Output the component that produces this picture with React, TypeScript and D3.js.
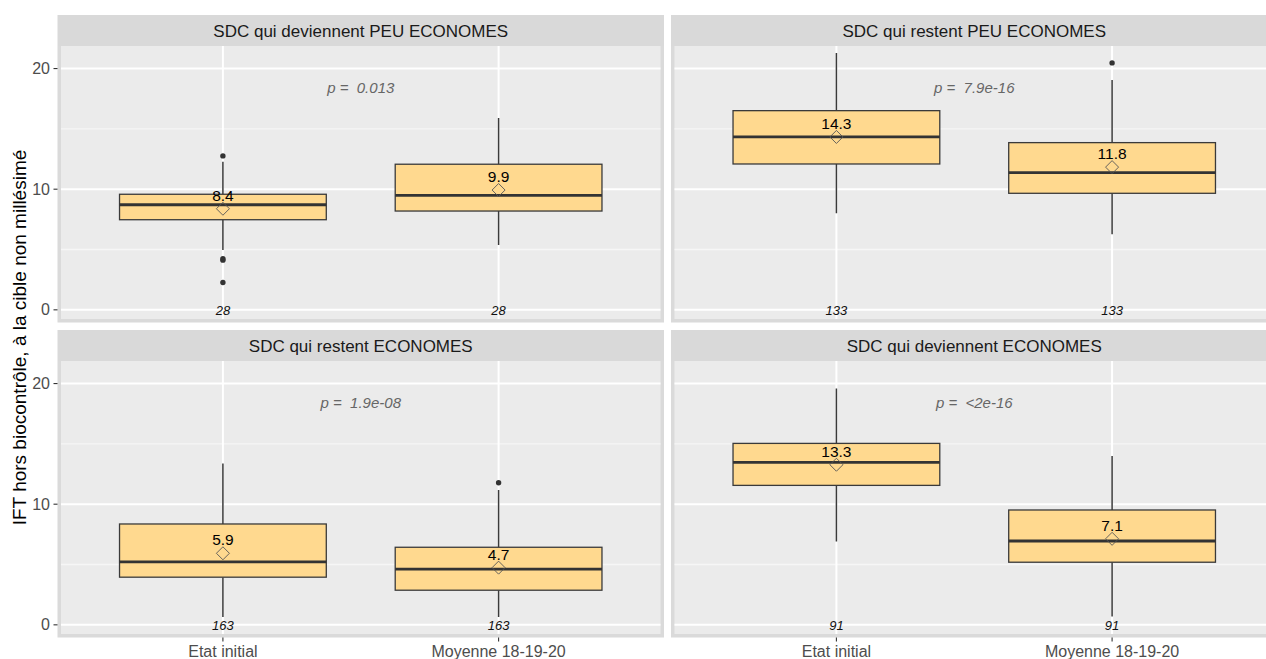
import React from "react";
import * as d3 from "d3";

const facets = [
  "SDC qui deviennent PEU ECONOMES",
  "SDC qui restent PEU ECONOMES",
  "SDC qui restent ECONOMES",
  "SDC qui deviennent ECONOMES",
];
const categories = ["Etat initial", "Moyenne 18-19-20"];
const whiskerLow = [[4.95, 5.37], [8.0, 6.26], [0.65, 0.65], [6.9, 0.69]];
const q1 = [[7.47, 8.19], [12.09, 9.66], [3.95, 2.87], [11.56, 5.19]];
const medians = [[8.71, 9.49], [14.33, 11.37], [5.22, 4.61], [13.47, 6.95]];
const q3 = [[9.58, 12.07], [16.51, 13.86], [8.36, 6.43], [15.04, 9.52]];
const whiskerHigh = [[12.28, 15.9], [21.28, 19.06], [13.38, 11.18], [19.6, 13.99]];
const means = [[8.38, 9.93], [14.33, 11.83], [5.93, 4.74], [13.27, 7.13]];
const meanLabels = [["8.4", "9.9"], ["14.3", "11.8"], ["5.9", "4.7"], ["13.3", "7.1"]];
const outliers = [[[12.76, 4.23, 4.12, 2.27], []], [[], [20.47]], [[], [11.78]], [[], []]];
const counts = [["28", "28"], ["133", "133"], ["163", "163"], ["91", "91"]];
const pValues = ["0.013", "7.9e-16", "1.9e-08", "<2e-16"];
const yTicks = [0, 10, 20];
const yMinor = [5, 15];

const FONT = "'Liberation Sans', Arial, Helvetica, sans-serif";

const cols = [[57.5, 664], [671, 1277.5]];
const rows = [
  { stripTop: 15, top: 46, bottom: 322.5 },
  { stripTop: 330, top: 361, bottom: 637.5 },
];

function Panel({ idx }: { idx: number }) {
  const r = rows[Math.floor(idx / 2)];
  const c = cols[idx % 2];
  const x = d3.scalePoint().domain(categories).range([c[0], c[1]]).padding(0.6);
  const step = x.step();
  const y = d3.scaleLinear().domain([-1.05, 21.87]).range([r.bottom, r.top]);
  const bw = step * 0.75;
  const showYAxis = idx % 2 === 0;
  const showXAxis = Math.floor(idx / 2) === 1;
  const clipId = `clip${idx}`;
  return (
    <g>
      <defs>
        <clipPath id={clipId}>
          <rect x={c[0]} y={r.top} width={c[1] - c[0]} height={r.bottom - r.top} />
        </clipPath>
      </defs>
      <rect x={c[0]} y={r.stripTop} width={c[1] - c[0]} height={r.top - r.stripTop} fill="#d9d9d9" />
      <text x={(c[0] + c[1]) / 2} y={(r.stripTop + r.top) / 2 + 6} textAnchor="middle" fontSize={17} fill="#1a1a1a" fontFamily={FONT}>
        {facets[idx]}
      </text>
      <rect x={c[0]} y={r.top} width={c[1] - c[0]} height={r.bottom - r.top} fill="#dadada" />
      <rect x={c[0] + 3.5} y={r.top} width={c[1] - c[0] - 7} height={r.bottom - r.top - 3.5} fill="#ebebeb" />
      <g>
        {yMinor.map((t) => (
          <line key={"mi" + t} x1={c[0] + 3.5} x2={c[1] - 3.5} y1={y(t)} y2={y(t)} stroke="#f6f6f6" strokeWidth={1.3} />
        ))}
        {yTicks.map((t) => (
          <line key={"ma" + t} x1={c[0] + 3.5} x2={c[1] - 3.5} y1={y(t)} y2={y(t)} stroke="#ffffff" strokeWidth={2} />
        ))}
        {categories.map((cat) => (
          <line key={"v" + cat} x1={x(cat)} x2={x(cat)} y1={r.top} y2={r.bottom - 3.5} stroke="#ffffff" strokeWidth={2} />
        ))}
      </g>
      <g clipPath={`url(#${clipId})`}>
        {categories.map((cat, j) => {
          const cx = x(cat) as number;
          return (
            <g key={cat}>
              <line x1={cx} x2={cx} y1={y(whiskerHigh[idx][j])} y2={y(q3[idx][j])} stroke="#3a3a3a" strokeWidth={1.5} />
              <line x1={cx} x2={cx} y1={y(q1[idx][j])} y2={y(whiskerLow[idx][j])} stroke="#3a3a3a" strokeWidth={1.5} />
              <rect x={cx - bw / 2} y={y(q3[idx][j])} width={bw} height={y(q1[idx][j]) - y(q3[idx][j])} fill="#ffd98f" stroke="#3a3a3a" strokeWidth={1.3} />
              <line x1={cx - bw / 2} x2={cx + bw / 2} y1={y(medians[idx][j])} y2={y(medians[idx][j])} stroke="#333333" strokeWidth={2.8} />
              {outliers[idx][j].map((o, k) => (
                <circle key={k} cx={cx} cy={y(o)} r={2.7} fill="#333333" />
              ))}
              <path
                d={`M${cx},${y(means[idx][j]) - 6.5} L${cx + 6.5},${y(means[idx][j])} L${cx},${y(means[idx][j]) + 6.5} L${cx - 6.5},${y(means[idx][j])} Z`}
                fill="none"
                stroke="#555555"
                strokeWidth={0.9}
              />
              <text x={cx} y={y(means[idx][j]) - 8} textAnchor="middle" fontSize={15.5} fill="#000" fontFamily={FONT}>
                {meanLabels[idx][j]}
              </text>
              <text x={cx} y={y(0) + 5} textAnchor="middle" fontSize={13} fontStyle="italic" fill="#111" fontFamily={FONT}>
                {counts[idx][j]}
              </text>
            </g>
          );
        })}
        <text
          x={x.range()[0] + (x.range()[1] - x.range()[0]) / 2}
          y={y(18.45) + 5.5}
          textAnchor="middle"
          fontSize={15}
          fontStyle="italic"
          fill="#666666"
          fontFamily={FONT}
          style={{ whiteSpace: "pre" }}
        >
          {"p =  " + pValues[idx]}
        </text>
      </g>
      {showYAxis &&
        yTicks.map((t) => (
          <g key={"yt" + t}>
            <line x1={c[0] - 4} x2={c[0]} y1={y(t)} y2={y(t)} stroke="#333" strokeWidth={1.1} />
            <text x={c[0] - 7.5} y={y(t) + 5.6} textAnchor="end" fontSize={16} fill="#4d4d4d" fontFamily={FONT}>
              {t}
            </text>
          </g>
        ))}
      {showXAxis &&
        categories.map((cat) => (
          <g key={"xt" + cat}>
            <line x1={x(cat)} x2={x(cat)} y1={r.bottom} y2={r.bottom + 4} stroke="#333" strokeWidth={1.1} />
            <text x={x(cat)} y={656.5} textAnchor="middle" fontSize={16} fill="#4d4d4d" fontFamily={FONT}>
              {cat}
            </text>
          </g>
        ))}
    </g>
  );
}

export default function App() {
  return (
    <svg
      width={1266}
      height={659}
      style={{ position: "absolute", left: 0, top: 0, background: "#fff" }}
    >
      <rect width={1266} height={659} fill="#ffffff" />
      {facets.map((f, i) => (
        <Panel key={f} idx={i} />
      ))}
      <text
        transform="translate(26,337.5) rotate(-90)"
        textAnchor="middle"
        fontSize={19}
        fill="#000"
        fontFamily={FONT}
      >
        IFT hors biocontrôle, à la cible non millésimé
      </text>
    </svg>
  );
}
